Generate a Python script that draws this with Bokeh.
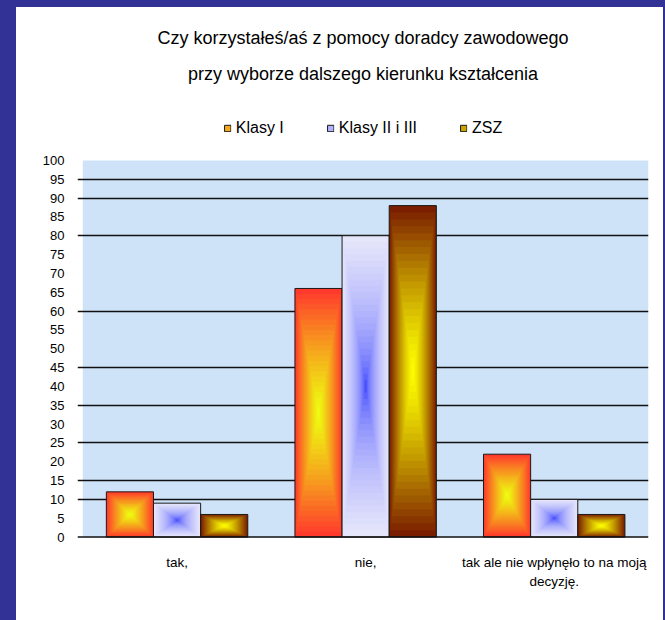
from bokeh.plotting import figure
from bokeh.models import (Range1d, FixedTicker, BoxAnnotation, Legend, LegendItem,
                          Title, ColumnDataSource, Label, Span)
from bokeh.layouts import column
from bokeh.embed import file_html
from bokeh.resources import INLINE

# ---------------- data ----------------
categories = ["tak,", "nie,", "tak ale nie wpłynęło to na moją\ndecyzję."]
series_names = ["Klasy I", "Klasy II i III", "ZSZ"]
klasy_1 = [12, 66, 22]
klasy_2_3 = [9, 80, 10]
zsz = [6, 88, 6]
y_ticks = list(range(0, 101, 5))
grid_values = [10, 15, 25, 35, 45, 60, 80, 90, 95]
title_line1 = "Czy korzystałeś/aś z pomocy doradcy zawodowego"
title_line2 = "przy wyborze dalszego kierunku kształcenia"

# ---------------- styles ----------------
FONT = "Liberation Sans"
# (outer colour, centre colour, gamma)
styles = [
    ("#ff3a2c", "#eeff10", 1.2),
    ("#e6e6fb", "#0a14ff", 0.4),
    ("#7a1e00", "#ffff00", 1.3),
]
values = [klasy_1, klasy_2_3, zsz]
BAR_W = 0.25
N_LAYERS = 24
Y_MAX = 100
Y_TOP = 116.7      # white space above the value axis (holds the legend)
Y_BOTTOM = -19.5   # white space below the baseline (holds category labels)


def hex2rgb(h):
    h = h.lstrip("#")
    return tuple(int(h[i:i + 2], 16) for i in (0, 2, 4))


def lerp(c1, c2, t):
    a, b = hex2rgb(c1), hex2rgb(c2)
    return "#%02x%02x%02x" % tuple(int(round(a[i] + (b[i] - a[i]) * t)) for i in range(3))


p = figure(width=647, height=613, output_backend="svg", toolbar_location=None,
           title=None, x_range=Range1d(-0.028, 3.0), y_range=Range1d(Y_BOTTOM, Y_TOP),
           min_border_left=61, min_border_right=15, min_border_top=90,
           min_border_bottom=10)
p.background_fill_color = "white"
p.border_fill_color = "white"
p.outline_line_color = None
p.outline_line_alpha = 0
p.styles = {"background-color": "white"}

# light blue plot area
p.add_layout(BoxAnnotation(left=0, top=Y_MAX, bottom=0, fill_color="#cfe3f8",
                           fill_alpha=1.0, line_color=None, level="image"))

legend_items = []
for si, (vals, st) in enumerate(zip(values, styles)):
    outer, center, gamma = st
    offset = (si - 1) * BAR_W
    xs = [i + 0.5 + offset for i in range(len(categories))]
    layer_renderers = []
    for k in range(N_LAYERS):
        s = 1.0 - k / N_LAYERS
        col = lerp(center, outer, s ** gamma)
        src = ColumnDataSource(dict(x=xs, y=[v / 2 for v in vals],
                                    w=[BAR_W * s] * len(vals),
                                    h=[v * s for v in vals]))
        layer_renderers.append(p.rect("x", "y", "w", "h", source=src,
                                      fill_color=col, line_color=None))
    osrc = ColumnDataSource(dict(x=xs, y=[v / 2 for v in vals],
                                 w=[BAR_W] * len(vals), h=vals))
    outline = p.rect("x", "y", "w", "h", source=osrc, fill_color=None,
                     line_color="#1a1a1a", line_width=1)
    mid = layer_renderers[N_LAYERS // 2]
    legend_items.append(LegendItem(label=series_names[si], renderers=[mid, outline]))

# grid lines and baseline
p.xgrid.visible = False
p.ygrid.ticker = FixedTicker(ticks=grid_values)
p.ygrid.grid_line_color = "#111111"
p.ygrid.grid_line_width = 1.5
p.add_layout(Span(location=0, dimension="width", line_color="#111111", line_width=1.5))

# value axis
p.yaxis.ticker = FixedTicker(ticks=y_ticks)
p.yaxis.axis_line_color = None
p.yaxis.major_tick_line_color = None
p.yaxis.minor_tick_line_color = None
p.yaxis.major_label_standoff = 7
p.yaxis.major_label_text_font = FONT
p.yaxis.major_label_text_font_size = "13px"
p.yaxis.major_label_text_color = "black"

# category labels (drawn below the baseline)
p.xaxis.visible = False
for i, c in enumerate(categories):
    for j, line in enumerate(c.split("\n")):
        p.add_layout(Label(x=i + 0.5, y=0, text=line, text_align="center",
                           text_baseline="middle", y_offset=-25 - 19 * j,
                           text_font=FONT, text_font_size="13.5px",
                           text_color="black"))

legend = Legend(items=legend_items, orientation="horizontal", location="top_center",
                spacing=42, glyph_width=8, glyph_height=8, label_standoff=5,
                label_text_font=FONT, label_text_font_size="16px",
                label_text_color="black", border_line_color=None,
                background_fill_alpha=0, padding=0, margin=22)
p.add_layout(legend, "center")

p.add_layout(Title(text=title_line2, align="center", text_font=FONT,
                   text_font_size="18px", text_font_style="normal",
                   text_color="black", standoff=28), "above")
p.add_layout(Title(text=title_line1, align="center", text_font=FONT,
                   text_font_size="18px", text_font_style="normal",
                   text_color="black", standoff=0), "above")

layout = column(p, styles={"background-color": "#323296", "padding-left": "16px",
                           "padding-top": "7px", "padding-right": "2px"})

open("out.html", "w").write(file_html(layout, INLINE))
